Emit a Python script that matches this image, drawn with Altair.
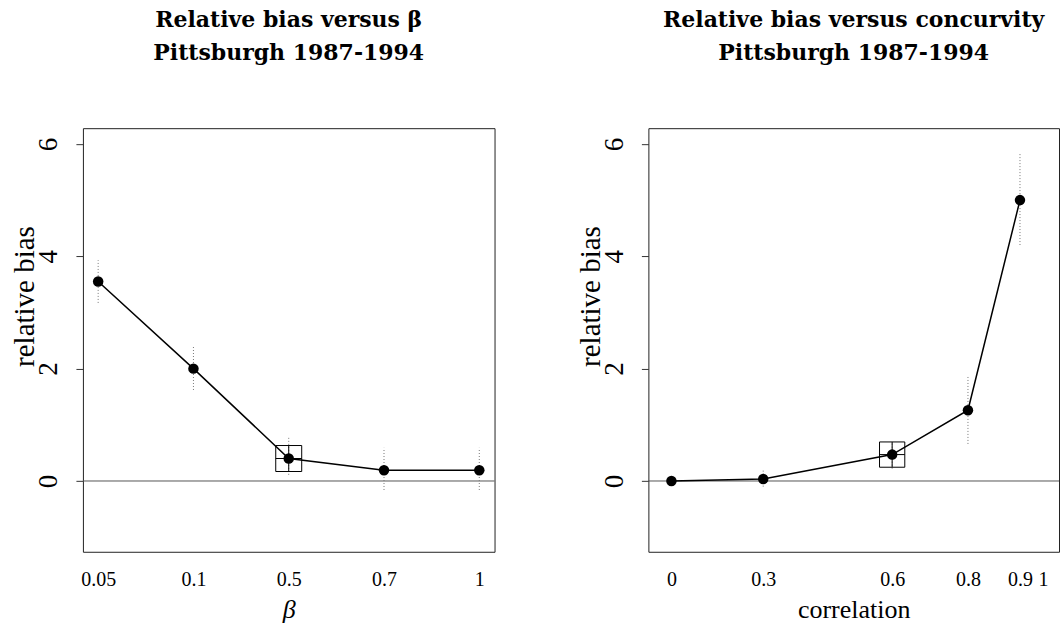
import altair as alt
import pandas as pd

# ---- data ----
beta_labels = ["0.05", "0.1", "0.5", "0.7", "1"]
beta_bias = [3.55, 2.00, 0.40, 0.19, 0.19]
beta_lo = [3.17, 1.62, 0.11, -0.16, -0.16]
beta_hi = [3.93, 2.39, 0.77, 0.59, 0.59]
beta_ref = [False, False, True, False, False]

corr_labels = ["0", "0.3", "0.6", "0.8", "0.9"]
corr_pos = [0.0, 0.247, 0.594, 0.798, 0.938]
corr_bias = [0.0, 0.035, 0.47, 1.26, 5.00]
corr_lo = [0.0, -0.10, 0.22, 0.66, 4.20]
corr_hi = [0.0, 0.20, 0.70, 1.87, 5.84]
corr_ref = [False, False, True, False, False]
corr_tick_pos = [0.0, 0.247, 0.594, 0.798, 0.938, 1.0]
corr_tick_labels = ["0", "0.3", "0.6", "0.8", "0.9", "1"]

y_ticks = [0, 2, 4, 6]
y_domain = [-1.26, 6.28]

SERIF = "Liberation Serif"
BOX = "M-1,-1H1V1H-1ZM-1,0H1M0,-1V1"

df_beta = pd.DataFrame({"beta": beta_labels, "bias": beta_bias, "lo": beta_lo,
                        "hi": beta_hi, "ref": beta_ref})
df_corr = pd.DataFrame({"corr": corr_pos, "label": corr_labels, "bias": corr_bias,
                        "lo": corr_lo, "hi": corr_hi, "ref": corr_ref})
df_zero = pd.DataFrame({"y": [0]})

yscale = alt.Scale(domain=y_domain, nice=False, zero=False)
yaxis = alt.Axis(values=y_ticks, format="d", title="relative bias", tickSize=7,
                 tickColor="#333", domain=False, grid=False, labelAngle=-90,
                 labelAlign="center", labelBaseline="alphabetic", labelPadding=19,
                 labelFontSize=27, labelFont=SERIF, labelColor="black", titleFont=SERIF,
                 titleFontSize=29, titleFontWeight="normal", titleColor="black",
                 titleAngle=-90, titleBaseline="alphabetic", titleX=-49, titleY=168)


def title(line1):
    return alt.TitleParams(text=[line1, "Pittsburgh 1987-1994"], font="DejaVu Serif",
                           fontWeight="bold", fontSize=22, lineHeight=33,
                           anchor="middle", offset=63, color="black")


# ---- left panel ----
xb = alt.X("beta:O", sort=beta_labels,
           scale=alt.Scale(type="point", padding=0.16),
           axis=alt.Axis(title="β", titleFontStyle="italic", labelAngle=0, ticks=False,
                         domain=False, labelFontSize=20, labelFont=SERIF,
                         labelColor="black", labelPadding=18, titleFont=SERIF,
                         titleFontSize=26, titleFontWeight="normal", titleColor="black",
                         titleBaseline="alphabetic", titleY=66))
yb = alt.Y("bias:Q", scale=yscale, axis=yaxis)

bb = alt.Chart(df_beta)
left = alt.layer(
    alt.Chart(df_zero).mark_rule(color="#555", strokeWidth=1).encode(y=alt.Y("y:Q", scale=yscale)),
    bb.mark_rule(strokeDash=[1, 2], color="#777", strokeWidth=1).encode(x=xb, y=alt.Y("lo:Q", scale=yscale), y2="hi:Q"),
    bb.mark_line(color="black", strokeWidth=1.5).encode(x=xb, y=yb),
    bb.mark_circle(size=110, color="black", opacity=1).encode(x=xb, y=yb),
    bb.transform_filter("datum.ref").mark_point(shape=BOX, size=676, filled=False,
                                                 stroke="black", strokeWidth=1, opacity=1).encode(x=xb, y=yb),
).properties(width=412, height=424, title=title("Relative bias versus β"))

# ---- right panel ----
label_expr = "[" + ",".join("'%s'" % s for s in corr_tick_labels) + "][indexof([" + \
    ",".join(str(v) for v in corr_tick_pos) + "], datum.value)]"
xc = alt.X("corr:Q", scale=alt.Scale(domain=[-0.062, 1.043], nice=False, zero=False),
           axis=alt.Axis(title="correlation", values=corr_tick_pos, labelExpr=label_expr,
                         labelAngle=0, ticks=False, domain=False, grid=False,
                         labelFontSize=20, labelFont=SERIF, labelColor="black",
                         labelPadding=18, labelFlush=False, labelOverlap=False,
                         titleFont=SERIF, titleFontSize=26, titleFontWeight="normal",
                         titleColor="black", titleBaseline="alphabetic", titleY=66))
yc = alt.Y("bias:Q", scale=yscale, axis=yaxis)

cb = alt.Chart(df_corr)
right = alt.layer(
    alt.Chart(df_zero).mark_rule(color="#555", strokeWidth=1).encode(y=alt.Y("y:Q", scale=yscale)),
    cb.mark_rule(strokeDash=[1, 2], color="#777", strokeWidth=1).encode(x=xc, y=alt.Y("lo:Q", scale=yscale), y2="hi:Q"),
    cb.mark_line(color="black", strokeWidth=1.5).encode(x=xc, y=yc),
    cb.mark_circle(size=110, color="black", opacity=1).encode(x=xc, y=yc),
    cb.transform_filter("datum.ref").mark_point(shape=BOX, size=640, filled=False,
                                                 stroke="black", strokeWidth=1, opacity=1).encode(x=xc, y=yc),
).properties(width=411, height=424, title=title("Relative bias versus concurvity"))

chart = alt.hconcat(left, right, spacing=80).resolve_scale(x="independent").properties(
    padding={"left": 10, "top": 8, "right": 0, "bottom": 0}
).configure_view(stroke="#222", strokeWidth=1)

chart.save("out.html", embed_options={"renderer": "svg", "actions": False})
